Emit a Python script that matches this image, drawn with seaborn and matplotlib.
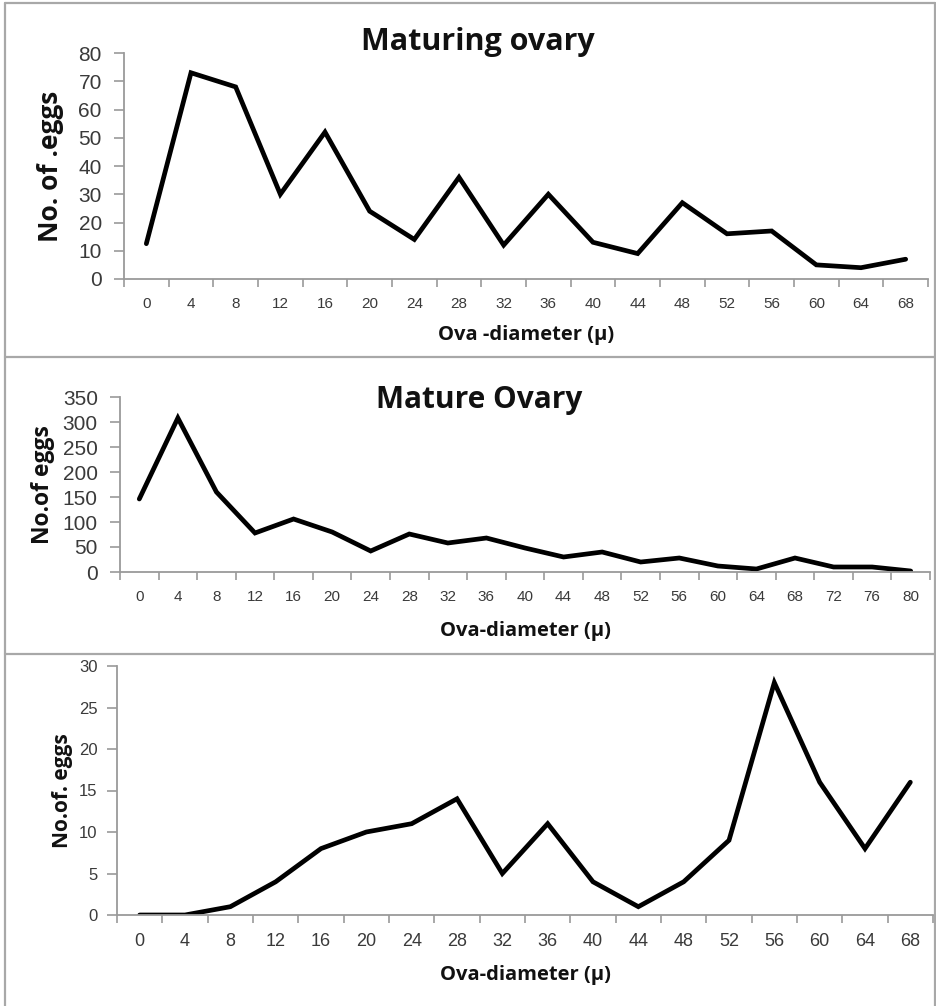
import numpy as np
import pandas as pd
import matplotlib
matplotlib.use("Agg")
import matplotlib.pyplot as plt
from matplotlib.lines import Line2D
from matplotlib.ticker import FixedLocator
import seaborn as sns

sns.set_theme(style="white")
plt.rcParams['font.family'] = ['Open Sans', 'DejaVu Sans']

# ---- data ----
maturing_x = [0, 4, 8, 12, 16, 20, 24, 28, 32, 36, 40, 44, 48, 52, 56, 60, 64, 68]
maturing_y = [12.5, 73, 68, 30, 52, 24, 14, 36, 12, 30, 13, 9, 27, 16, 17, 5, 4, 7]

mature_x = [0, 4, 8, 12, 16, 20, 24, 28, 32, 36, 40, 44, 48, 52, 56, 60, 64, 68, 72, 76, 80]
mature_y = [146, 308, 160, 78, 106, 80, 42, 76, 58, 68, 48, 30, 40, 20, 28, 12, 6, 28, 10, 10, 2]

third_x = [0, 4, 8, 12, 16, 20, 24, 28, 32, 36, 40, 44, 48, 52, 56, 60, 64, 68]
third_y = [0, 0, 1, 4, 8, 10, 11, 14, 5, 11, 4, 1, 4, 9, 28, 16, 8, 16]

titles = ["Maturing ovary", "Mature Ovary", None]
ylabels = ["No. of .eggs", "No.of eggs", "No.of. eggs"]
xlabels = ["Ova -diameter (\u03bc)", "Ova-diameter (\u03bc)", "Ova-diameter (\u03bc)"]
yticks = [list(range(0, 81, 10)), list(range(0, 351, 50)), list(range(0, 31, 5))]

W, H = 937, 1006
fig = plt.figure(figsize=(W / 100, H / 100), dpi=100)


def fx(px):
    return px / W


def fy(py):
    return 1 - py / H


def add_ax(l, t, r, b):
    return fig.add_axes([fx(l), fy(b), fx(r) - fx(l), (b - t) / H])


axis_col = "#9a9a9a"
tick_text = "#3a3a3a"

panels = [
    dict(box=(124, 53, 928, 279), x=maturing_x, y=maturing_y, ytfs=15, xtfs=11,
         ypad=9, xpad=13,
         title_pos=(478, 42), title_fs=22, ylab_x=51, ylab_fs=19, xlab_y=335, xlab_fs=14.5),
    dict(box=(120, 397, 930, 572), x=mature_x, y=mature_y, ytfs=15, xtfs=11,
         ypad=9, xpad=13,
         title_pos=(479, 400), title_fs=21.5, ylab_x=43, ylab_fs=16.5, xlab_y=631, xlab_fs=14.5),
    dict(box=(117, 666, 933, 915), x=third_x, y=third_y, ytfs=12, xtfs=13,
         ypad=7, xpad=13,
         title_pos=None, title_fs=None, ylab_x=63, ylab_fs=15, xlab_y=975, xlab_fs=14.5),
]

for i, p in enumerate(panels):
    l, t, r, b = p["box"]
    ax = add_ax(l, t, r, b)
    df = pd.DataFrame({"x": p["x"], "y": p["y"]})
    sns.lineplot(data=df, x="x", y="y", ax=ax, color="black", linewidth=3.4,
                 solid_joinstyle="miter")
    xs = p["x"]
    ax.set_xlim(xs[0] - 2, xs[-1] + 2)
    yt = yticks[i]
    ax.set_ylim(yt[0], yt[-1])
    ax.set_yticks(yt)
    ax.set_yticklabels([str(v) for v in yt])
    ax.set_xticks(xs)
    ax.set_xticklabels([str(v) for v in xs])
    bounds = [v - 2 for v in xs] + [xs[-1] + 2]
    ax.xaxis.set_minor_locator(FixedLocator(bounds))
    ax.tick_params(axis="x", which="major", length=0, pad=p["xpad"], labelsize=p["xtfs"],
                   labelcolor=tick_text)
    ax.tick_params(axis="x", which="minor", length=6, width=1.2, color=axis_col,
                   direction="out", bottom=True)
    ax.tick_params(axis="y", which="major", length=7, width=1.2, color=axis_col,
                   direction="out", left=True, pad=p["ypad"], labelsize=p["ytfs"],
                   labelcolor=tick_text)
    for side in ["top", "right"]:
        ax.spines[side].set_visible(False)
    for side in ["left", "bottom"]:
        ax.spines[side].set_color(axis_col)
        ax.spines[side].set_linewidth(1.3)
    ax.set_xlabel("")
    ax.set_ylabel("")
    ax.patch.set_alpha(0)
    for lab in ax.get_xticklabels() + ax.get_yticklabels():
        lab.set_family(["Liberation Sans", "DejaVu Sans"])

    if titles[i]:
        tx, ty = p["title_pos"]
        fig.text(fx(tx), fy(ty), titles[i], ha="center", va="center",
                 fontsize=p["title_fs"], fontweight="bold", color="#111111")
    fig.text(fx(p["ylab_x"]), fy((t + b) / 2), ylabels[i], rotation=90,
             ha="center", va="center", fontsize=p["ylab_fs"], fontweight="bold",
             color="#111111")
    fig.text(fx((l + r) / 2), fy(p["xlab_y"]), xlabels[i], ha="center", va="center",
             fontsize=p["xlab_fs"], fontweight="bold", color="#111111")

# panel frames
frame_col = "#a8a8a8"
for yy in [3, 357, 654]:
    fig.add_artist(Line2D([fx(5), fx(935)], [fy(yy), fy(yy)], color=frame_col, lw=1.6))
for xx in [5, 935]:
    fig.add_artist(Line2D([fx(xx), fx(xx)], [fy(3), fy(1006)], color=frame_col, lw=1.6))

fig.savefig("out.png", dpi=100, facecolor="white")
